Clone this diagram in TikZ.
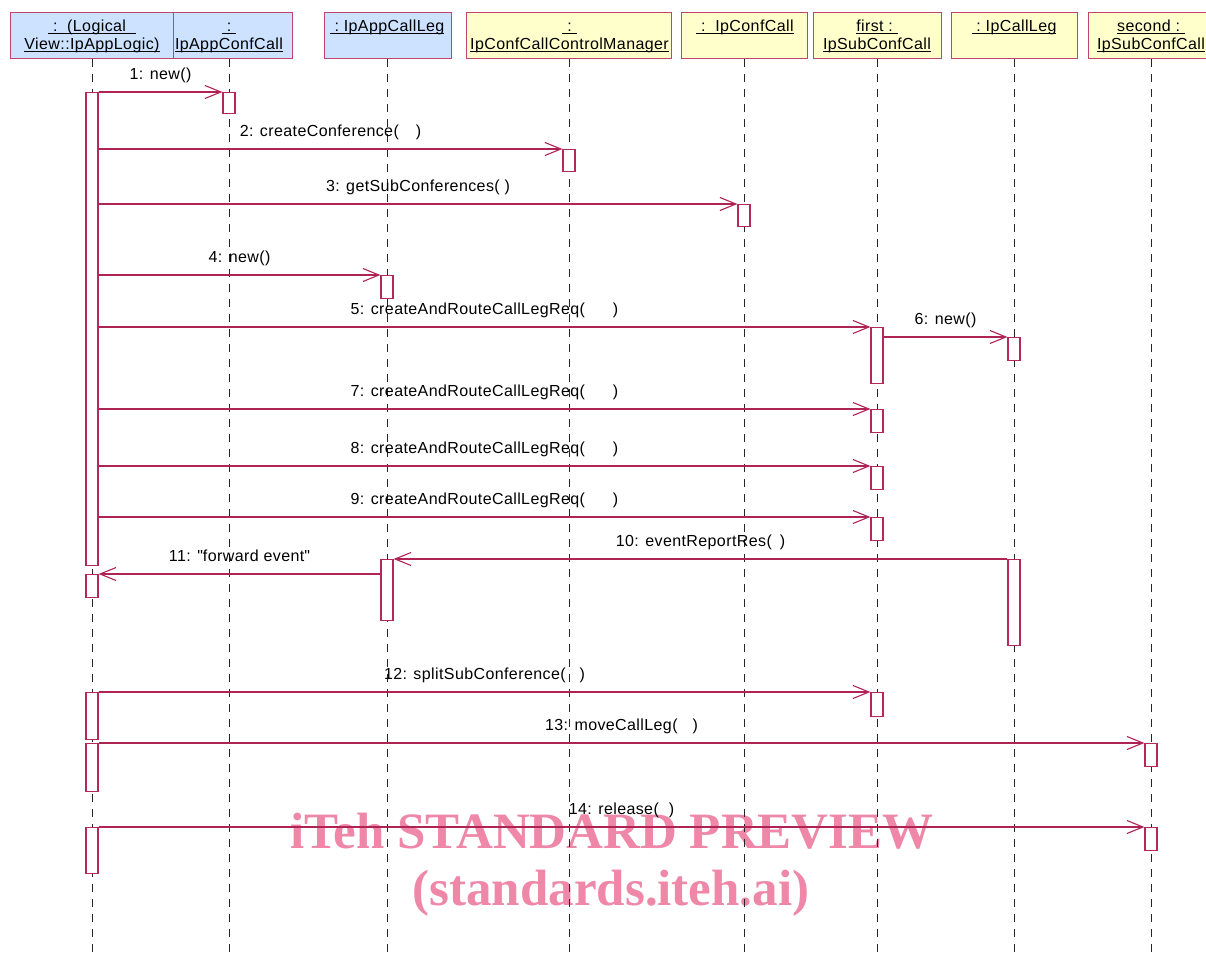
\documentclass[tikz,border=0pt]{standalone}
\usepackage{fontspec}
\setmainfont{Liberation Sans}[LetterSpace=2.5]
\newfontfamily\wmfont{Liberation Serif}
\usetikzlibrary{arrows.meta}
\definecolor{hdrline}{RGB}{190,70,110}
\definecolor{msgline}{RGB}{175,35,85}
\definecolor{actline}{RGB}{180,40,90}
\definecolor{bluefill}{RGB}{204,226,255}
\definecolor{yelfill}{RGB}{255,255,204}
\definecolor{wmcol}{RGB}{238,135,168}
\newcommand{\ulx}[1]{\underline{\smash{#1}}}
\begin{document}
\begin{tikzpicture}[x=1pt,y=-1pt,
  hdr/.style={draw=hdrline, line width=1.2pt, minimum height=46pt, anchor=north west, inner sep=0pt},
  blue/.style={fill=bluefill},
  yel/.style={fill=yelfill},
  htxt/.style={font=\fontsize{16}{19}\selectfont, anchor=base, inner sep=0pt},
  life/.style={draw=black!85, line width=1pt, dash pattern=on 8pt off 7pt},
  act/.style={draw=actline, fill=white, line width=1.2pt, minimum width=12pt, inner sep=0pt, anchor=north},
  msg/.style={draw=msgline, line width=1.1pt, -{Straight Barb[length=16pt,width=13pt,line width=1.1pt]}},
  mlbl/.style={font=\fontsize{16}{19}\selectfont, anchor=base, inner sep=0pt, yshift=12.5pt, text=black},
  wm/.style={font=\wmfont\bfseries\fontsize{51}{60}\selectfont, text=wmcol, anchor=base, inner sep=0pt}
]
\useasboundingbox (0,0) rectangle (1206,952);
\clip (0,0) rectangle (1206,952);
\fill[white] (0,0) rectangle (1206,952);

% watermark
\node[wm] (wm1) at (612,848) {iTeh STANDARD PREVIEW};
\node[wm] (wm2) at (611,905) {(standards.iteh.ai)};

% header boxes
\node[hdr, blue, minimum width=163pt] (h1) at (10,12) {};
\node[hdr, blue, minimum width=119pt] (h2) at (173,12) {};
\node[hdr, blue, minimum width=127pt] (h3) at (324,12) {};
\node[hdr, yel, minimum width=205pt] (h4) at (466,12) {};
\node[hdr, yel, minimum width=126pt] (h5) at (681,12) {};
\node[hdr, yel, minimum width=128pt] (h6) at (813,12) {};
\node[hdr, yel, minimum width=126pt] (h7) at (951,12) {};
\node[hdr, yel, minimum width=132pt] (h8) at (1088,12) {};

% header texts
\node[htxt] (t1a) at (92,31.5) {\ulx{\ :\ \ (Logical\ \ }};
\node[htxt] (t1b) at (92,50) {\ulx{View::IpAppLogic)}};
\node[htxt] (t2a) at (229,31.5) {\ulx{\ :\ }};
\node[htxt] (t2b) at (229,50) {\ulx{IpAppConfCall}};
\node[htxt] (t3a) at (387,31.5) {\ulx{\ :\ IpAppCallLeg}};
\node[htxt] (t4a) at (569.5,31.5) {\ulx{\ :\ }};
\node[htxt] (t4b) at (569.5,50) {\ulx{IpConfCallControlManager}};
\node[htxt] (t5a) at (745,31.5) {\ulx{\ :\ \ IpConfCall}};
\node[htxt] (t6a) at (877,31.5) {\ulx{first :\ }};
\node[htxt] (t6b) at (877,50) {\ulx{IpSubConfCall}};
\node[htxt] (t7a) at (1014,31.5) {\ulx{\ :\ IpCallLeg}};
\node[htxt] (t8a) at (1151,31.5) {\ulx{second :\ }};
\node[htxt] (t8b) at (1151,50) {\ulx{IpSubConfCall}};

% lifelines
\coordinate (e1) at (92,952);
\coordinate (e2) at (229,952);
\coordinate (e3) at (387,952);
\coordinate (e4) at (569,952);
\coordinate (e5) at (744,952);
\coordinate (e6) at (877,952);
\coordinate (e7) at (1014,952);
\coordinate (e8) at (1151,952);
\foreach \h/\e in {h1/e1,h2/e2,h3/e3,h4/e4,h5/e5,h6/e6,h7/e7,h8/e8}
  \draw[life] (\h.south -| \e) -- (\e);

% activations
\node[act, minimum height=473pt] (a1a) at (92,92) {};
\node[act, minimum height=23pt] (a1b) at (92,574) {};
\node[act, minimum height=47pt] (a1c) at (92,692) {};
\node[act, minimum height=48pt] (a1d) at (92,743) {};
\node[act, minimum height=46pt] (a1e) at (92,827) {};
\node[act, minimum height=21pt] (a2a) at (229,92) {};
\node[act, minimum height=23pt] (a3a) at (387,275) {};
\node[act, minimum height=61pt] (a3b) at (387,559) {};
\node[act, minimum height=22pt] (a4a) at (569,149) {};
\node[act, minimum height=22pt] (a5a) at (744,204) {};
\node[act, minimum height=56pt] (a6a) at (877,327) {};
\node[act, minimum height=23pt] (a6b) at (877,409) {};
\node[act, minimum height=23pt] (a6c) at (877,466) {};
\node[act, minimum height=23pt] (a6d) at (877,517) {};
\node[act, minimum height=24pt] (a6e) at (877,692) {};
\node[act, minimum height=23pt] (a7a) at (1014,337) {};
\node[act, minimum height=86pt] (a7b) at (1014,559) {};
\node[act, minimum height=23pt] (a8a) at (1151,743) {};
\node[act, minimum height=23pt] (a8b) at (1151,827) {};

% messages
\draw[msg] (a1a.east |- a2a.north) -- node[mlbl] {1: new()} (a2a.north west);
\draw[msg] (a1a.east |- a4a.north) -- node[mlbl] {2: createConference(\hspace{17pt})} (a4a.north west);
\draw[msg] (a1a.east |- a5a.north) -- node[mlbl] {3: getSubConferences( )} (a5a.north west);
\draw[msg] (a1a.east |- a3a.north) -- node[mlbl] {4: new()} (a3a.north west);
\draw[msg] (a1a.east |- a6a.north) -- node[mlbl] {5: createAndRouteCallLegReq(\hspace{28pt})} (a6a.north west);
\draw[msg] (a6a.east |- a7a.north) -- node[mlbl] {6: new()} (a7a.north west);
\draw[msg] (a1a.east |- a6b.north) -- node[mlbl] {7: createAndRouteCallLegReq(\hspace{28pt})} (a6b.north west);
\draw[msg] (a1a.east |- a6c.north) -- node[mlbl] {8: createAndRouteCallLegReq(\hspace{28pt})} (a6c.north west);
\draw[msg] (a1a.east |- a6d.north) -- node[mlbl] {9: createAndRouteCallLegReq(\hspace{28pt})} (a6d.north west);
\draw[msg] (a7b.north west) -- node[mlbl] {10: eventReportRes(\hspace{8pt})} (a3b.north east);
\draw[msg] (a3b.west |- a1b.north) -- node[mlbl] {11: \textquotedbl forward event\textquotedbl} (a1b.north east);
\draw[msg] (a1c.north east) -- node[mlbl] {12: splitSubConference(\hspace{14pt})} (a6e.north west);
\draw[msg] (a1d.north east) -- node[mlbl] {13: moveCallLeg(\hspace{15pt})} (a8a.north west);
\draw[msg] (a1e.north east) -- node[mlbl] {14: release(\hspace{10pt})} (a8b.north west);
\end{tikzpicture}
\end{document}
